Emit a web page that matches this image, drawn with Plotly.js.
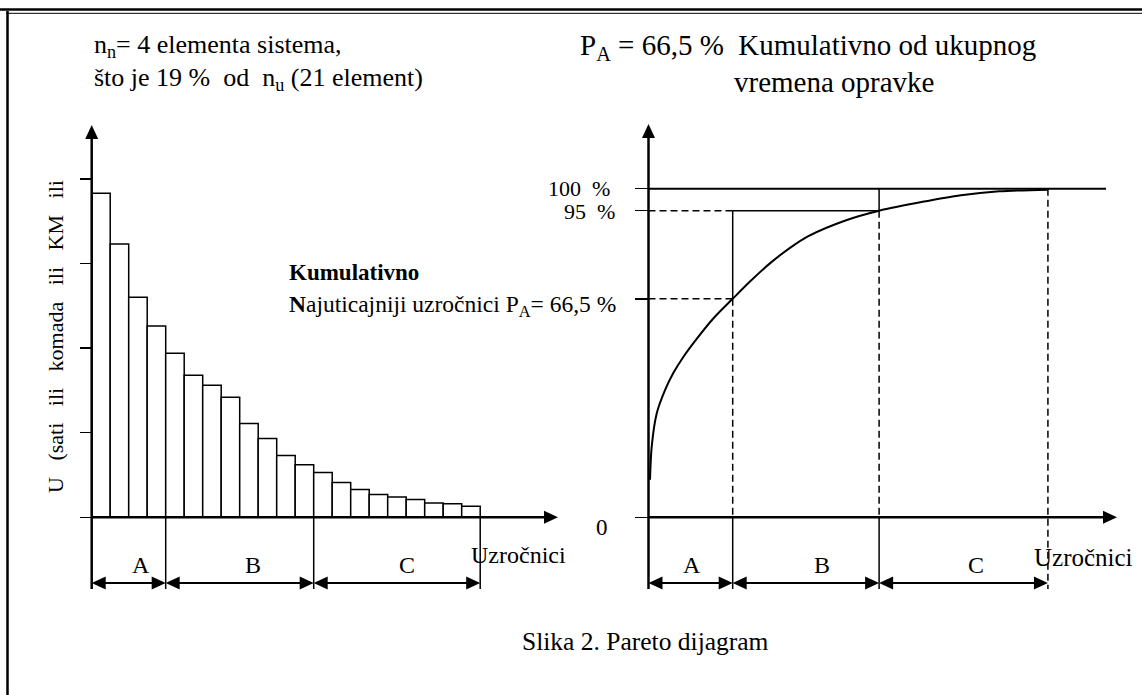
<!DOCTYPE html>
<html><head><meta charset="utf-8">
<script src="https://cdn.plot.ly/plotly-3.0.1.min.js"></script>
<style>html,body{margin:0;padding:0;background:#fff;}#chart{width:1142px;height:695px;}</style>
</head><body><div id="chart"></div>
<script>
// ---------- data ----------
const causeIndex = [1,2,3,4,5,6,7,8,9,10,11,12,13,14,15,16,17,18,19,20,21];
const causeValues = [3.83,3.23,2.60,2.26,1.94,1.68,1.56,1.42,1.11,0.93,0.73,0.62,0.53,0.41,0.33,0.27,0.24,0.21,0.17,0.16,0.13];
const leftYTicks = [0,1,2,3,4];
const leftZoneBounds = [0,4,12,21];
const zoneNames = ['A','B','C'];
const curveX = [0.079,0.168,0.431,0.868,1.304,1.830,2.534,3.407,4.427,5.363,6.367,7.440,8.381,10.394,12.124,14.416,16.430,18.439,20.994];
const curveY = [11.4,21.5,31.6,38.7,43.9,48.8,54.3,60.5,66.5,71.9,77.2,82.0,85.5,90.4,93.3,96.0,98.0,99.2,99.7];
const rightZoneBounds = [0,4.427,12.124,21];
const levelVals = [100,93.3,66.5,0];
const levelText = ['100\u00a0\u00a0%','95\u00a0\u00a0%','<b>N</b>ajuticajniji uzročnici P<sub>A</sub>= 66,5 %','0'];
const titleLeft1 = 'n<sub>n</sub>= 4 elementa sistema,';
const titleLeft2 = 'što je 19 %\u00a0\u00a0od\u00a0\u00a0n<sub>u</sub> (21 element)';
const titleRight1 = 'P<sub>A</sub> = 66,5 %\u00a0\u00a0Kumulativno od ukupnog';
const titleRight2 = 'vremena opravke';
const yLabelLeft = 'U\u00a0\u00a0\u00a0(sati\u00a0\u00a0\u00a0ili\u00a0\u00a0\u00a0komada\u00a0\u00a0\u00a0ili\u00a0\u00a0\u00a0KM\u00a0\u00a0\u00a0ili';
const xLabel = 'Uzročnici';
const caption = 'Slika 2. Pareto dijagram';

// ---------- layout geometry (pixels) ----------
const W = 1142, H = 695;
const px = x => x / W, py = y => 1 - y / H;
const FONT = "'Liberation Serif', 'Times New Roman', serif";
const L = {x0: 91.7, ux: 18.5, y0: 517.3, uy: 84.6, dx: [60, 580], dy: [110, 610]};
const R = {x0: 648.5, ux: 19.02, y0: 517.3, uy: 3.286, dx: [620, 1135], dy: [110, 610]};
const toX = (g, p) => (p - g.x0) / g.ux;
const toY = (g, p) => (g.y0 - p) / g.uy;

const lTipY = toY(L, 125), lTipX = toX(L, 558), lBot = toY(L, 589), lArr = toY(L, 583);
const rTipY = toY(R, 124), rTipX = toX(R, 1117), rBot = toY(R, 589), rArr = toY(R, 583), rTop = toX(R, 1106);

const traces = [
  {type: 'bar', x: causeIndex.map(i => i - 0.5), y: causeValues, width: 1,
   marker: {color: 'white', line: {color: 'black', width: 1.5}}, xaxis: 'x', yaxis: 'y', hoverinfo: 'skip'},
  {type: 'scatter', mode: 'lines', x: curveX, y: curveY, line: {color: 'black', width: 2, shape: 'spline', smoothing: 0.8},
   xaxis: 'x2', yaxis: 'y2', hoverinfo: 'skip'}
];

const shapes = [];
const ln = (xref, yref, x0, y0, x1, y1, w, dash) => shapes.push({type: 'line', xref, yref, x0, y0, x1, y1,
  line: {color: 'black', width: w, dash: dash || 'solid'}, layer: 'above'});
const DASH = '7px,4px';
// arrow heads as pixel-sized triangles anchored at the tip
const HEAD = {
  up: 'M0,0L-6.5,-14L6.5,-14Z',
  right: 'M0,0L-14,6.5L-14,-6.5Z',
  left: 'M0,0L14,6.5L14,-6.5Z'
};
const head = (xref, yref, x, y, dir) => shapes.push({type: 'path', xref, yref, xsizemode: 'pixel', ysizemode: 'pixel',
  xanchor: x, yanchor: y, path: HEAD[dir], fillcolor: 'black', line: {width: 0}, layer: 'above'});

// frame
ln('paper','paper', 0, py(9.5), 1, py(9.5), 2.5);
ln('paper','paper', px(6), py(13.3), 1, py(13.3), 1);
ln('paper','paper', px(7.5), py(11), px(7.5), 0, 2.5);
// left chart axes & zones
ln('x','y', 0, lBot, 0, lTipY - 0.1, 2.5);
ln('x','y', 0, 0, lTipX - 0.4, 0, 2.5);
head('x','y', 0, lTipY, 'up');
head('x','y', lTipX, 0, 'right');
leftZoneBounds.slice(1).forEach(b => ln('x','y', b, 0, b, lBot, 1.5));
for (let i = 0; i < 3; i++) {
  ln('x','y', leftZoneBounds[i] + 0.3, lArr, leftZoneBounds[i+1] - 0.3, lArr, 2);
  head('x','y', leftZoneBounds[i], lArr, 'left');
  head('x','y', leftZoneBounds[i+1], lArr, 'right');
}
// right chart
ln('x2','y2', 0, rBot, 0, rTipY - 3, 2.5);
ln('x2','y2', 0, 0, rTipX - 0.4, 0, 2.5);
head('x2','y2', 0, rTipY, 'up');
head('x2','y2', rTipX, 0, 'right');
ln('x2','y2', 0, levelVals[0], rTop, levelVals[0], 2);
const [bA, bB, bC] = [rightZoneBounds[1], rightZoneBounds[2], rightZoneBounds[3]];
const [l100, l95, l66] = [levelVals[0], levelVals[1], levelVals[2]];
ln('x2','y2', 0, l95, bA, l95, 1.5, DASH);
ln('x2','y2', 0, l66, bA, l66, 1.5, DASH);
ln('x2','y2', bA, l95, bB, l95, 1.5);
ln('x2','y2', bA, l95, bA, l66, 1.5);
ln('x2','y2', bA, l66, bA, 0, 1.5, DASH);
ln('x2','y2', bA, 0, bA, rBot, 1.5);
ln('x2','y2', bB, l100, bB, l95, 1.5);
ln('x2','y2', bB, l95, bB, 0, 1.5, DASH);
ln('x2','y2', bB, 0, bB, rBot, 1.5);
ln('x2','y2', bC, l100, bC, rBot, 1.5, DASH);
for (let i = 0; i < 3; i++) {
  ln('x2','y2', rightZoneBounds[i] + 0.3, rArr, rightZoneBounds[i+1] - 0.3, rArr, 2);
  head('x2','y2', rightZoneBounds[i], rArr, 'left');
  head('x2','y2', rightZoneBounds[i+1], rArr, 'right');
}

// ---------- text ----------
const ann = [];
const txt = (x, y, text, size, xanchor, extra) => ann.push(Object.assign({xref: 'paper', yref: 'paper', x: px(x), y: py(y),
  text, showarrow: false, xanchor: xanchor || 'left', yanchor: 'middle', font: {family: FONT, size, color: 'black'}}, extra || {}));
txt(92, 46, titleLeft1, 26);
txt(92, 79, titleLeft2, 26);
txt(578, 47, titleRight1, 29);
txt(732, 82, titleRight2, 29);
txt(287, 272, '<b>Kumulativno</b>', 23);
txt(55, 337, yLabelLeft, 22, 'center', {textangle: -90});
txt(469, 555, xLabel, 24);
txt(1032, 557, xLabel, 25);
txt(520, 641, caption, 25.5);
const leftLabelX = [141, 253, 407], rightLabelX = [692, 822, 976];
zoneNames.forEach((z, i) => { txt(leftLabelX[i], 565, z, 24, 'center'); txt(rightLabelX[i], 565, z, 24, 'center'); });
const levelLabelX = [612, 617, 618, 610], levelShift = [0, -1, -7, -10], levelSize = [22, 22, 23.5, 23];
levelVals.forEach((v, i) => ann.push({xref: 'paper', yref: 'y2', x: px(levelLabelX[i]), y: v, yshift: levelShift[i],
  text: levelText[i], showarrow: false, xanchor: 'right', yanchor: 'middle', font: {family: FONT, size: levelSize[i], color: 'black'}}));

const axCommon = {showgrid: false, zeroline: false, showline: false, fixedrange: true};
const layout = {
  width: W, height: H, margin: {l: 0, r: 0, t: 0, b: 0}, paper_bgcolor: 'white', plot_bgcolor: 'rgba(0,0,0,0)',
  showlegend: false, font: {family: FONT, color: 'black'},
  xaxis: Object.assign({}, axCommon, {domain: [px(L.dx[0]), px(L.dx[1])], range: [toX(L, L.dx[0]), toX(L, L.dx[1])],
    showticklabels: false, ticks: '', anchor: 'y'}),
  yaxis: Object.assign({}, axCommon, {domain: [py(L.dy[1]), py(L.dy[0])], range: [toY(L, L.dy[1]), toY(L, L.dy[0])],
    anchor: 'free', position: px(L.x0), ticks: 'outside', ticklen: 12, tickwidth: 1.5, tickcolor: 'black',
    tickmode: 'array', tickvals: leftYTicks, showticklabels: false}),
  xaxis2: Object.assign({}, axCommon, {domain: [px(R.dx[0]), px(R.dx[1])], range: [toX(R, R.dx[0]), toX(R, R.dx[1])],
    showticklabels: false, ticks: '', anchor: 'y2'}),
  yaxis2: Object.assign({}, axCommon, {domain: [py(R.dy[1]), py(R.dy[0])], range: [toY(R, R.dy[1]), toY(R, R.dy[0])],
    anchor: 'free', position: px(R.x0), ticks: 'outside', ticklen: 14, tickwidth: 1.5, tickcolor: 'black',
    tickmode: 'array', tickvals: levelVals, showticklabels: false}),
  shapes, annotations: ann, bargap: 0
};
Plotly.newPlot('chart', traces, layout, {staticPlot: true, displayModeBar: false}).then(gd => {
  // Plotly wraps <sub> in zero-width spaces; fold the baseline-reset span into the following text and drop empty nodes
  gd.querySelectorAll('text tspan').forEach(t => {
    if (t.textContent === '\u200b') {
      const next = t.nextSibling;
      if (next && next.nodeType === 3) { t.textContent = next.textContent; next.remove(); }
    }
  });
  gd.querySelectorAll('text').forEach(el => {
    const walker = document.createTreeWalker(el, NodeFilter.SHOW_TEXT);
    const kill = [];
    while (walker.nextNode()) {
      const n = walker.currentNode;
      if (n.nodeValue.indexOf('\u200b') >= 0) {
        n.nodeValue = n.nodeValue.replace(/\u200b/g, '');
        if (n.nodeValue === '') kill.push(n);
      }
    }
    kill.forEach(n => n.remove());
  });
});
</script></body></html>
